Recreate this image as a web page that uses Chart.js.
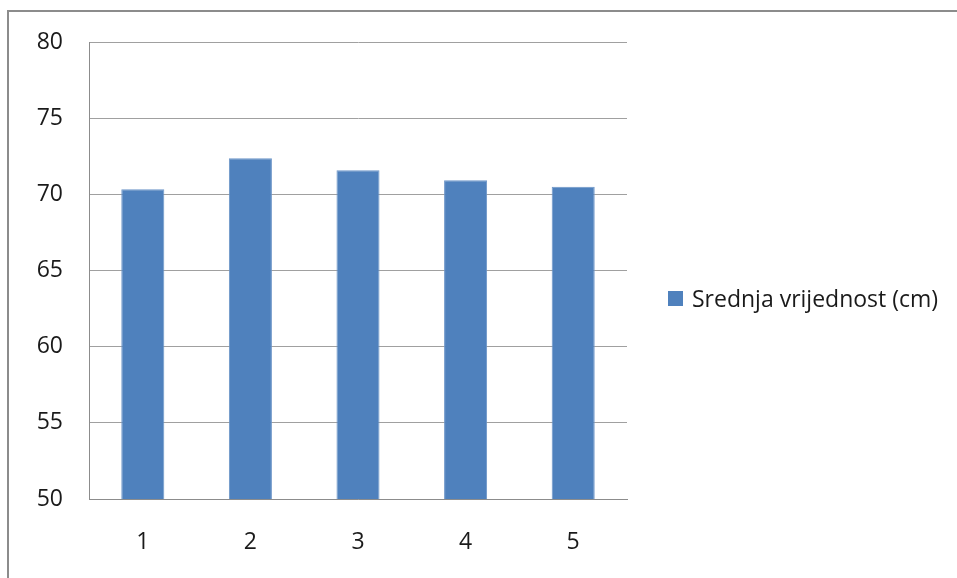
<!DOCTYPE html>
<html>
<head>
<meta charset="utf-8">
<script src="https://cdn.jsdelivr.net/npm/chart.js@4/dist/chart.umd.min.js"></script>
<style>
	body { margin: 0; background: #fff; }
	#wrap { position: relative; width: 957px; height: 578px; overflow: hidden; }
	#frame { position: absolute; left: 7px; top: 10px; width: 1000px; height: 700px; border-left: 2px solid #8c8c8c; border-top: 2px solid #8c8c8c; }
	#myChart { position: absolute; left: 0; top: 0; }
	#legend { position: absolute; left: 668px; top: 282px; font-family: "Open Sans", sans-serif; font-size: 23px; color: #1a1a1a; display: flex; align-items: center; white-space: nowrap; }
	#legend span.box { display: inline-block; width: 15px; height: 15px; margin-right: 9px; }
</style>
</head>
<body>
<div id="wrap">
	<div id="frame"></div>
	<canvas id="myChart" width="957" height="578"></canvas>
	<div id="legend"></div>
</div>
<script>
const ctx = document.getElementById("myChart").getContext("2d");

const categories = ["1", "2", "3", "4", "5"];
const seriesName = "Srednja vrijednost (cm)";
const meanValues = [70.33, 72.37, 71.58, 70.92, 70.5];
const yTicks = [50, 55, 60, 65, 70, 75, 80];

const barColor = "#4f81bd";
const tickFont = { family: "Open Sans", size: 23 };

const chart = new Chart(ctx, {
	type: "bar",
	data: {
		labels: categories,
		datasets: [{
			label: seriesName,
			backgroundColor: barColor,
			borderColor: "#6c95c8",
			borderWidth: 1,
			data: meanValues,
			categoryPercentage: 1,
			barPercentage: 0.4
		}]
	},
	options: {
		responsive: false,
		animation: false,
		layout: { padding: { left: 0, top: 42, right: 330, bottom: 0 } },
		plugins: {
			legend: { display: false },
			tooltip: { enabled: false }
		},
		scales: {
			x: {
				grid: { display: false, drawTicks: false },
				border: { color: "#8c8c8c", width: 1 },
				ticks: { padding: 30, color: "#1a1a1a", font: tickFont },
				afterFit: (axis) => { axis.height = 79; }
			},
			y: {
				min: yTicks[0],
				max: yTicks[yTicks.length - 1],
				afterBuildTicks: (axis) => { axis.ticks = yTicks.map(v => ({ value: v })); },
				grid: { color: "#a0a0a0", drawTicks: false },
				border: { color: "#8c8c8c", width: 1 },
				ticks: { padding: 26, color: "#1a1a1a", font: tickFont },
				afterFit: (axis) => { axis.width = 89; }
			}
		}
	}
});

// legend outside the canvas
const legend = document.getElementById("legend");
for (const ds of chart.data.datasets) {
	const box = document.createElement("span");
	box.className = "box";
	box.style.background = ds.backgroundColor;
	legend.appendChild(box);
	legend.appendChild(document.createTextNode(ds.label));
}
</script>
</body>
</html>
